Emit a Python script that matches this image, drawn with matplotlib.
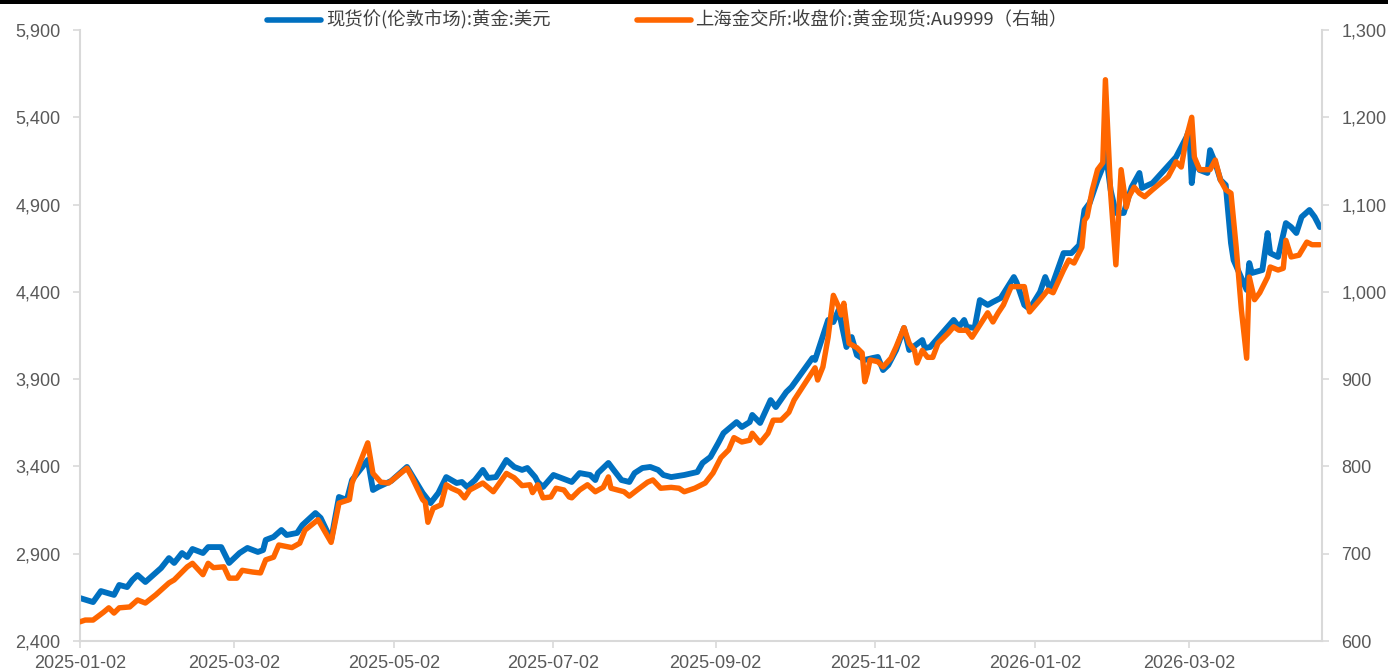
import numpy as np
import pandas as pd
import matplotlib
matplotlib.use("Agg")
import matplotlib.pyplot as plt
import matplotlib.dates as mdates
from matplotlib.lines import Line2D
from matplotlib.patches import Rectangle
from matplotlib.ticker import FuncFormatter

# ---------------- data ----------------
start_date = "2025-01-02"

blue_label = "现货价(伦敦市场):黄金:美元"
orange_label = "上海金交所:收盘价:黄金现货:Au9999（右轴）"

# London spot gold (USD), day offsets from start_date
blue_days = [0, 5, 8, 13, 15, 18, 20, 22, 25, 31, 34, 36, 39, 41, 43, 47, 49, 54, 57, 61,
             64, 68, 70, 71, 74, 77, 79, 83, 85, 90, 92, 96, 99, 102, 104, 110, 112, 114, 119,
             125, 128, 131, 134, 137, 140, 144, 146, 148, 151, 154, 156, 159,
             163, 166, 169, 171, 174, 175, 177, 181, 184, 188, 191, 195, 197, 198, 202, 204,
             207, 210, 212, 215, 218, 221, 223, 226, 231, 236, 238, 241, 244, 246, 251, 253,
             256, 257, 260, 264, 266, 270, 272, 280, 281, 286, 288, 290, 293, 295, 297,
             300, 303, 305, 307, 309, 312, 315, 317, 322, 323, 325, 328, 334, 336, 338, 339,
             342, 344, 347, 349, 352, 357, 358, 361, 363, 367, 369, 371, 376, 379, 382, 384,
             386, 389, 391, 392, 394, 396, 399, 402, 405, 406, 410, 419, 423, 424, 425, 426,
             428, 431, 432, 434, 436, 438, 440, 441, 446, 447, 448, 452, 454, 455, 458, 461,
             463, 465, 467, 470, 472, 474]
blue_values = [2646, 2623, 2686, 2664, 2721, 2709, 2749, 2778, 2738, 2818, 2875, 2847, 2904, 2881,
               2927, 2904, 2938, 2938, 2847, 2904, 2933, 2910, 2921, 2979, 2996, 3036, 3007, 3019,
               3064, 3133, 3105, 2979, 3225, 3208, 3322, 3437, 3265, 3282, 3317,
               3397, 3322, 3248, 3190, 3248, 3339, 3305, 3311, 3282, 3322, 3380, 3334, 3339,
               3437, 3397, 3380, 3391, 3339, 3311, 3282, 3351, 3334, 3311, 3362, 3351, 3322, 3362,
               3420, 3380, 3322, 3311, 3362, 3391, 3397, 3380, 3351, 3339, 3351, 3368, 3420, 3454,
               3534, 3591, 3654, 3626, 3654, 3695, 3649, 3780, 3740, 3826, 3855, 4021, 4010, 4239,
               4227, 4296, 4084, 4141, 4038,
               4010, 4021, 4027, 3952, 3981, 4067, 4193, 4067, 4124, 4078, 4084, 4136, 4239, 4199,
               4239, 4199, 4193, 4353, 4325, 4342, 4365, 4485, 4456, 4325, 4302, 4399, 4485, 4411,
               4622, 4622, 4668, 4869, 4909, 5041, 5115, 5212, 4983, 4852, 4852, 5000, 5081, 4995,
               5023, 5172, 5287, 5327, 5023, 5155, 5098, 5081, 5212, 5138, 5041, 5012, 4680, 4582,
               4411, 4565, 4508, 4525, 4737, 4622, 4600, 4794, 4771, 4737, 4829, 4869, 4829, 4771]

# SGE Au9999 close (CNY/g), day offsets from start_date
orange_days = [0, 2, 5, 9, 11, 13, 15, 19, 22, 25, 29, 34, 36, 41, 43, 47, 49, 51, 55, 57,
               60, 62, 66, 69, 71, 74, 76, 81, 84, 86, 91, 96, 99, 103, 104, 110, 112, 115, 118,
               125, 127, 131, 132, 133, 135, 138, 140, 142, 145, 147, 149, 154, 158,
               163, 166, 169, 172, 173, 175, 177, 180, 182, 185, 187, 188, 191, 194, 197, 200,
               202, 203, 208, 210, 213, 217, 219, 222, 226, 229, 231, 235, 239, 242, 245, 248,
               250, 253, 256, 257, 260, 263, 265, 268, 271, 273, 281, 282, 284, 286, 288, 290,
               291, 292, 294, 297, 299, 300, 301, 302, 305, 307, 310, 312, 315, 317, 319, 320,
               322, 324, 326, 328, 332, 334, 336, 339, 341, 344, 347, 349, 351, 353, 356, 361,
               363, 367, 370, 372, 376, 378, 380, 383, 384, 385, 387, 389, 391, 392, 394, 396,
               398, 400, 401, 403, 405, 407, 410, 416, 419, 421, 423, 425, 426, 428, 432, 434,
               436, 438, 440, 442, 444, 446, 447, 449, 451, 454, 455, 458, 460, 461, 463, 466,
               469, 471, 474]
orange_values = [622, 624, 624, 633, 638, 632, 638, 639, 647, 643.5, 653, 666.5, 670, 685, 689,
                 676, 689, 684, 685, 672, 672, 681, 679, 678, 693, 696, 710, 707, 712, 727, 739,
                 713, 758, 762, 781, 827, 792, 782, 781,
                 798, 787, 762, 759, 736, 752, 756, 779, 775, 771, 764, 773, 781, 771,
                 792, 787, 778, 779, 770, 779, 764, 765, 775, 773, 765, 764, 773, 779, 771, 776,
                 788, 775, 771, 766, 773, 782, 784.5, 775, 776, 775, 771, 775, 781, 792.5, 810, 819,
                 833, 828, 830, 838, 827, 838, 853, 853, 862, 876, 913, 899, 914, 948, 996, 983,
                 973.5, 987, 941, 936, 930, 897, 907, 922, 920, 914, 924, 937, 959, 941, 933, 918.5,
                 933, 925, 925, 941, 953, 960, 956, 956, 948, 962, 976, 965.5, 976, 985, 1006, 1006,
                 977, 991, 1002, 999, 1025, 1036.5, 1033, 1051, 1082, 1086, 1117, 1140, 1148, 1243,
                 1113, 1031, 1140, 1097, 1109, 1120, 1113, 1109, 1117, 1132, 1149, 1143, 1177, 1200,
                 1154.5, 1140, 1140, 1151, 1128, 1117, 1113, 1051, 979, 924, 1017, 991, 999, 1017,
                 1028.5, 1025, 1027, 1059, 1040, 1042, 1057, 1054, 1054]

x_ticks = ["2025-01-02", "2025-03-02", "2025-05-02", "2025-07-02", "2025-09-02",
           "2025-11-02", "2026-01-02", "2026-03-02"]
left_ticks = [2400, 2900, 3400, 3900, 4400, 4900, 5400, 5900]
right_ticks = [600, 700, 800, 900, 1000, 1100, 1200, 1300]

# ---------------- plot ----------------
plt.rcParams['font.family'] = ['Liberation Sans', 'DejaVu Sans']

W, H = 1388, 672
fig = plt.figure(figsize=(W / 100, H / 100), dpi=100)
x0, x1, y0, y1 = 80, 1322, 641, 30
ax = fig.add_axes([x0 / W, 1 - y0 / H, (x1 - x0) / W, (y0 - y1) / H])
ax2 = ax.twinx()

t0 = pd.Timestamp(start_date)
bd = t0 + pd.to_timedelta(blue_days, unit="D")
od = t0 + pd.to_timedelta(orange_days, unit="D")

blue_c = "#0070C0"
orange_c = "#FF6600"
ax.plot(bd, blue_values, color=blue_c, lw=4.2, solid_joinstyle="round", solid_capstyle="round")
ax2.plot(od, orange_values, color=orange_c, lw=3.9, solid_joinstyle="round", solid_capstyle="round")

ax.set_xlim(t0, t0 + pd.Timedelta(days=474.8))
ax.set_ylim(left_ticks[0], left_ticks[-1])
ax2.set_ylim(right_ticks[0], right_ticks[-1])

ax.set_xticks(pd.to_datetime(x_ticks))
ax.xaxis.set_major_formatter(mdates.DateFormatter("%Y-%m-%d"))
ax.set_yticks(left_ticks)
ax2.set_yticks(right_ticks)
fmt = FuncFormatter(lambda v, p: f"{v:,.0f}")
ax.yaxis.set_major_formatter(fmt)
ax2.yaxis.set_major_formatter(fmt)

grey = "#D9D9D9"
tc = "#595959"
for a in (ax, ax2):
    for s in a.spines.values():
        s.set_visible(False)
ax.spines["left"].set_visible(True)
ax.spines["bottom"].set_visible(True)
ax2.spines["right"].set_visible(True)
for s in (ax.spines["left"], ax.spines["bottom"], ax2.spines["right"]):
    s.set_color(grey)
    s.set_linewidth(1.5)

ax.tick_params(axis="x", direction="out", length=5, width=1.2, color=grey,
               labelsize=13, labelcolor=tc, pad=5)
ax.tick_params(axis="y", direction="out", length=5, width=1.2, color=grey,
               labelsize=13, labelcolor=tc, pad=9)
ax2.tick_params(axis="y", direction="out", length=5, width=1.2, color=grey,
                labelsize=13, labelcolor=tc, pad=9)

# legend (manual placement)
ly = 1 - 20 / H
cjk = ['Noto Sans CJK SC', 'DejaVu Sans']
fig.add_artist(Line2D([267 / W, 321 / W], [ly, ly], color=blue_c, lw=4.0,
                      solid_capstyle="round", transform=fig.transFigure))
fig.text(326 / W, ly, blue_label, va="center", ha="left", fontsize=13.2, color="#404040",
         family=cjk)
fig.add_artist(Line2D([637 / W, 691 / W], [ly, ly], color=orange_c, lw=4.0,
                      solid_capstyle="round", transform=fig.transFigure))
fig.text(695 / W, ly, orange_label, va="center", ha="left", fontsize=13.2, color="#404040",
         family=cjk)

# top border line
fig.add_artist(Rectangle((0, 1 - 4 / H), 1, 4 / H, transform=fig.transFigure,
                         color="black", lw=0))

fig.savefig("out.png", dpi=100)
